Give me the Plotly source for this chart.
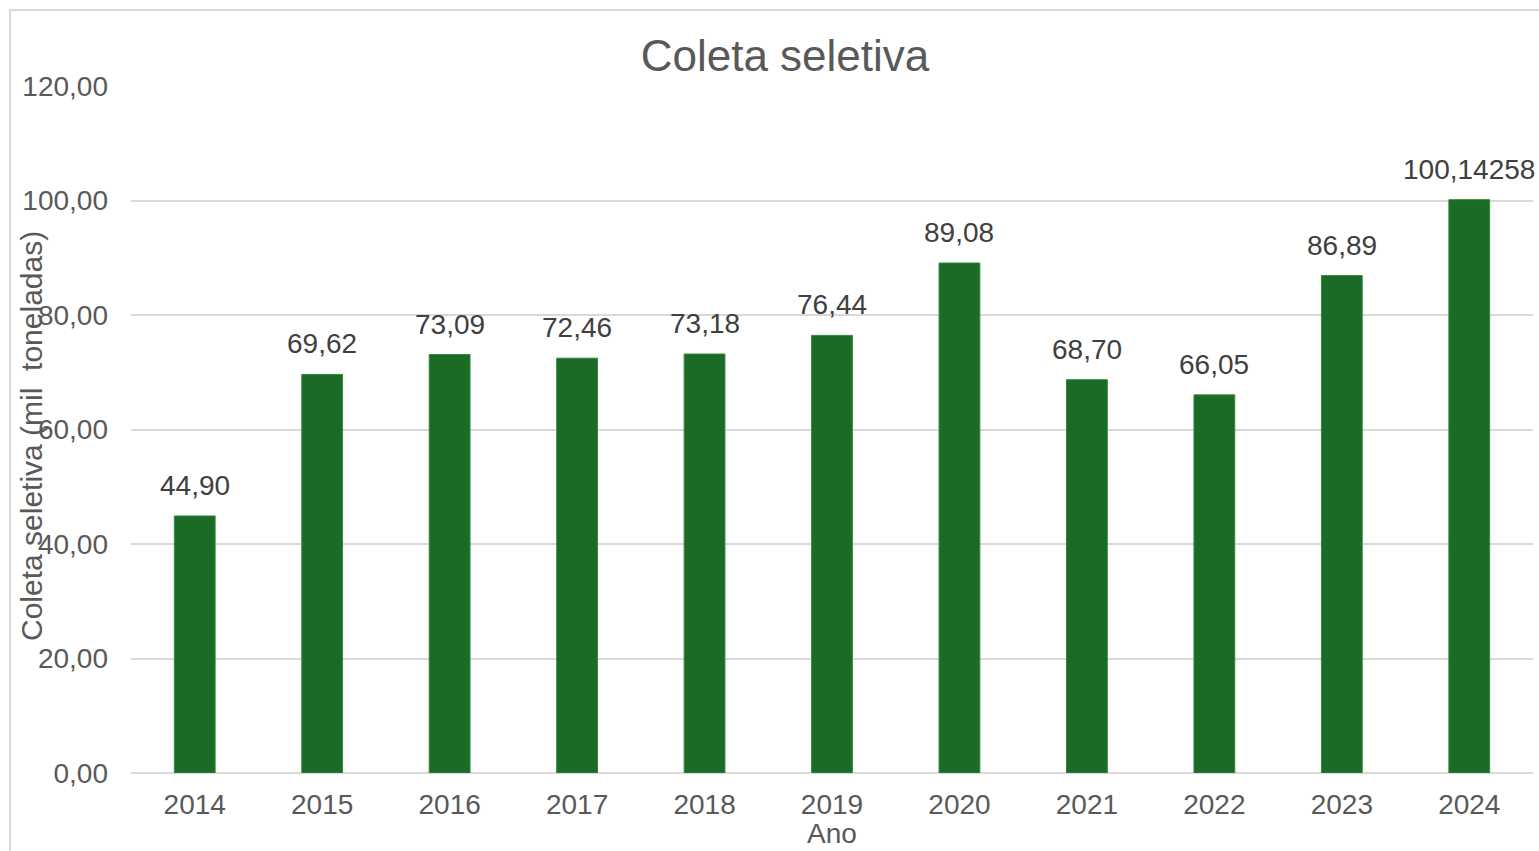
import plotly.graph_objects as go

anos = ["2014", "2015", "2016", "2017", "2018", "2019", "2020", "2021", "2022", "2023", "2024"]
coleta = [44.90, 69.62, 73.09, 72.46, 73.18, 76.44, 89.08, 68.70, 66.05, 86.89, 100.14258]
casas_decimais = [2, 2, 2, 2, 2, 2, 2, 2, 2, 2, 5]
y_ticks = [0, 20, 40, 60, 80, 100, 120]

rotulos = [f"{v:.{d}f}".replace(".", ",") for v, d in zip(coleta, casas_decimais)]

W, H = 1539, 851
ml, mr, mt = 131, 6, 86
mb = H - 773
pw, ph = W - ml - mr, H - mt - mb

FONT = "Liberation Sans, Arial, sans-serif"

fig = go.Figure()
fig.add_trace(go.Bar(
    x=anos, y=coleta,
    marker=dict(color="#1b6a26", line=dict(color="#2f8a3a", width=1)),
    hoverinfo="x+y",
))

# on a category axis, annotation x uses the category's serial number
annotations = [
    dict(x=i, y=v, xref="x", yref="y", text=t, showarrow=False,
         yanchor="bottom", xanchor="center", yshift=13,
         font=dict(family=FONT, size=28, color="#404040"))
    for i, (v, t) in enumerate(zip(coleta, rotulos))
]
annotations += [
    dict(text="Coleta seletiva (mil  toneladas)", textangle=-90,
         xref="paper", yref="paper", x=(32 - ml) / pw, y=(H - mb - 436) / ph,
         xanchor="center", yanchor="middle", showarrow=False,
         font=dict(family=FONT, size=30, color="#595959")),
    dict(text="Ano", xref="paper", yref="paper", x=(832 - ml) / pw,
         y=(H - mb - 833) / ph,
         xanchor="center", yanchor="middle", showarrow=False,
         font=dict(family=FONT, size=28, color="#595959")),
]

fig.update_layout(
    width=W, height=H,
    margin=dict(l=ml, r=mr, t=mt, b=mb),
    paper_bgcolor="white", plot_bgcolor="white",
    bargap=0.68,
    separators=",.",
    showlegend=False,
    font=dict(family=FONT, color="#595959"),
    title=dict(text="Coleta seletiva", x=785 / W, xanchor="center",
               y=1 - 56 / H, yanchor="middle",
               font=dict(size=44, color="#595959", family=FONT)),
    xaxis=dict(type="category", range=[-0.5, len(anos) - 0.5],
               showgrid=False, showline=False, zeroline=False, ticks="",
               tickfont=dict(size=28, color="#595959"), ticklabelstandoff=12),
    yaxis=dict(range=[0, 120], tickvals=y_ticks, tickformat=".2f",
               showgrid=True, gridcolor="#d9d9d9", gridwidth=1.5,
               zeroline=True, zerolinecolor="#d9d9d9", zerolinewidth=1.5,
               showline=False, ticks="",
               tickfont=dict(size=28, color="#595959"), ticklabelstandoff=22),
    annotations=annotations,
    shapes=[
        dict(type="rect", xref="paper", yref="paper",
             x0=(10 - ml) / pw, x1=(W + 20 - ml) / pw,
             y0=(H - mb - H - 20) / ph, y1=(H - mb - 10) / ph,
             line=dict(color="#d9d9d9", width=2), fillcolor="rgba(0,0,0,0)", layer="below"),
    ],
)

fig.write_html(
    "out.html",
    config={"displayModeBar": False},
    post_script="document.body.style.margin='0';document.body.style.overflow='hidden';"
                "document.documentElement.style.overflow='hidden';",
)
